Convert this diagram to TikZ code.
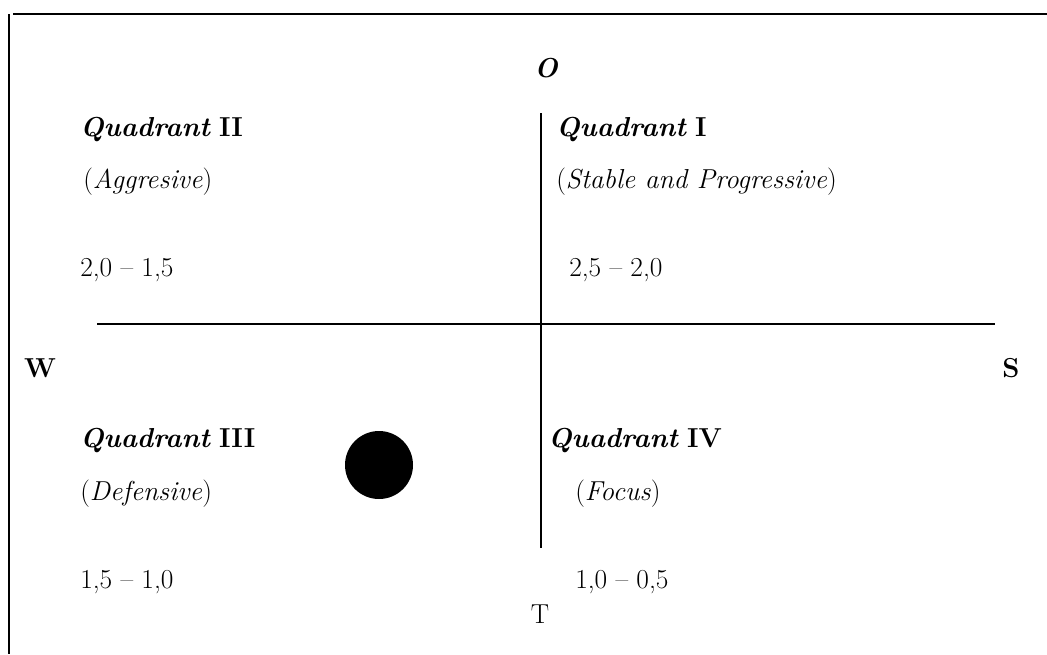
\documentclass[tikz,border=0pt]{standalone}
\usepackage{tikz}
\usetikzlibrary{positioning}

\tikzset{
  lbl/.style={anchor=west, inner sep=0pt, font=\fontsize{19.5}{23}\selectfont},
  pole/.style={inner sep=0pt, font=\fontsize{19.5}{23}\selectfont\bfseries},
  axis/.style={line width=1.4pt},
}

\begin{document}
\begin{tikzpicture}[x=0.025cm, y=-0.025cm]
        \useasboundingbox (0,0) rectangle (1047,654);

        % frame
        \coordinate (frameTL) at (9,14);
        \coordinate (frameBL) at (9,654);
        \coordinate (frameTS) at (13,14);
        \coordinate (frameTR) at (1047,14);
        \draw[line width=1.6pt] (frameTS) -- (frameTR);
        \draw[line width=1.6pt] (frameTL) -- (frameBL);

        % axes
        \coordinate (axW) at (97,324);
        \coordinate (axE) at (995,324);
        \coordinate (axN) at (541,113);
        \coordinate (axS) at (541,548);
        \draw[axis] (axW) -- (axE);
        \draw[axis] (axN) -- (axS);

        % poles
        \node[pole] (poleO) at (546,68) {\itshape O};
        \node[pole] (poleW) at (40,368) {W};
        \node[pole] (poleS) at (1011,368) {S};
        \node[pole, font=\fontsize{19.5}{23}\selectfont] (poleT) at (540,614) {T};

        % quadrant I
        \node[lbl] (quadI) at (556,130) {\textbf{\textit{Quadrant}} \textbf{I}};
        \node[lbl] (typeI) at (556,182) {(\textit{Stable and Progressive})};
        \node[lbl] (rangeI) at (569,270) {2,5 -- 2,0};

        % quadrant II
        \node[lbl] (quadII) at (80,130) {\textbf{\textit{Quadrant}} \textbf{II}};
        \node[lbl] (typeII) at (83,182) {(\textit{Aggresive})};
        \node[lbl] (rangeII) at (80,270) {2,0 -- 1,5};

        % quadrant III
        \node[lbl] (quadIII) at (80,441) {\textbf{\textit{Quadrant}} \textbf{III}};
        \node[lbl] (typeIII) at (80,494) {(\textit{Defensive})};
        \node[lbl] (rangeIII) at (80,582) {1,5 -- 1,0};

        % quadrant IV
        \node[lbl] (quadIV) at (548,441) {\textbf{\textit{Quadrant}} \textbf{IV}};
        \node[lbl] (typeIV) at (575,494) {(\textit{Focus})};
        \node[lbl] (rangeIV) at (575,582) {1,0 -- 0,5};

        % position
        \node[circle, fill=black, minimum size=68*0.025cm, inner sep=0pt] (spot) at (379,465) {};
      \end{tikzpicture}
\end{document}
